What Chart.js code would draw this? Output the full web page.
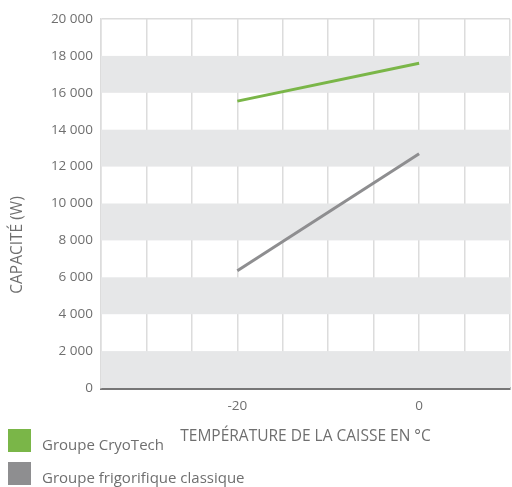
<!DOCTYPE html>
<html>
<head>
<meta charset="utf-8">
<script src="https://cdn.jsdelivr.net/npm/chart.js@4"></script>
<style>
  html, body { margin: 0; padding: 0; background: #fff; }
  #wrap { position: relative; width: 512px; height: 487px; }
  #legend { position: absolute; left: 8px; top: 429px; font: 15px 'Open Sans', sans-serif; color: #6f6f6f; }
  .leg-row { display: flex; align-items: center; height: 23px; margin-bottom: 10px; }
  .leg-box { width: 23px; height: 23px; margin-right: 11px; }
  .leg-row span { position: relative; top: 3px; }
</style>
</head>
<body>
<div id="wrap">
  <canvas id="chart" width="512" height="487"></canvas>
  <div id="legend"></div>
</div>
<script>
// Données
const temperatures  = [-20, 0];
const cryoTech      = [15550, 17600];
const classique     = [6350, 12700];
const seriesNames   = ['Groupe CryoTech', 'Groupe frigorifique classique'];
const seriesColors  = ['#7ab648', '#8e8e90'];
const xLabelTicks   = [-20, 0];
const xTitle        = 'TEMPÉRATURE DE LA CAISSE EN °C';
const yTitle        = 'CAPACITÉ (W)';

const textColor = '#6f6f6f';
const fontFam   = "'Open Sans', sans-serif";

// Bandes grises alternées
const bandsPlugin = {
    id: 'bands',
    beforeDatasetsDraw(chart) {
        const { ctx, chartArea, scales } = chart;
        const y = scales.y;
        ctx.save();
        ctx.fillStyle = '#e6e7e8';
        y.ticks.forEach((t, i) => {
            if (i % 2 === 0 && i + 1 < y.ticks.length) {
                const top = y.getPixelForValue(y.ticks[i + 1].value);
                const bot = y.getPixelForValue(t.value);
                ctx.fillRect(chartArea.left, top, chartArea.right - chartArea.left, bot - top);
            }
        });
        ctx.restore();
    }
};

// Titre axe Y (décalé vers le bas)
const yTitlePlugin = {
    id: 'yTitle',
    afterDraw(chart) {
        const { ctx } = chart;
        ctx.save();
        ctx.translate(18, 245);
        ctx.rotate(-Math.PI / 2);
        ctx.font = '15.5px ' + fontFam;
        ctx.fillStyle = textColor;
        ctx.textAlign = 'center';
        ctx.textBaseline = 'middle';
        ctx.fillText(yTitle, 0, 0);
        ctx.restore();
    }
};

const toPoints = vals => vals.map((v, i) => ({ x: temperatures[i], y: v }));

new Chart(document.getElementById('chart').getContext('2d'), {
    type: 'line',
    data: {
        datasets: [
            { data: toPoints(cryoTech),  borderColor: seriesColors[0], borderWidth: 3, pointRadius: 0, tension: 0 },
            { data: toPoints(classique), borderColor: seriesColors[1], borderWidth: 3, pointRadius: 0, tension: 0 }
        ]
    },
    plugins: [bandsPlugin, yTitlePlugin],
    options: {
        responsive: false,
        animation: false,
        layout: { padding: { top: 19, right: 2, left: 0, bottom: 0 } },
        plugins: { legend: { display: false }, tooltip: { enabled: false } },
        scales: {
            x: {
                type: 'linear',
                min: -35,
                max: 10,
                afterFit(scale) { scale.height = 99; scale.paddingLeft = 0; scale.paddingRight = 0; },
                grid: { color: '#dcdcdc', lineWidth: 1.5, drawTicks: false },
                border: { display: true, color: '#767676', width: 3 },
                ticks: {
                    stepSize: 5,
                    padding: 10,
                    color: textColor,
                    font: { family: fontFam, size: 13.5 },
                    callback: v => xLabelTicks.includes(v) ? String(v) : ''
                },
                title: {
                    display: true,
                    text: xTitle,
                    color: textColor,
                    font: { family: fontFam, size: 15.5 },
                    padding: { top: 4, bottom: 41 }
                }
            },
            y: {
                min: 0,
                max: 20000,
                afterFit(scale) { scale.width = 101; },
                grid: {
                    drawTicks: false,
                    lineWidth: 1.5,
                    color: c => c.tick && c.tick.value === 20000 ? '#dcdcdc' : 'rgba(0,0,0,0)'
                },
                border: { display: true, color: '#dcdcdc', width: 1.5 },
                ticks: {
                    stepSize: 2000,
                    padding: 8,
                    color: textColor,
                    font: { family: fontFam, size: 13.5 },
                    callback: v => v.toLocaleString('fr-FR').replace(/\s/g, ' ')
                }
            }
        }
    }
});

// Légende HTML
document.getElementById('legend').innerHTML = seriesNames.map((n, i) =>
    `<div class="leg-row"><div class="leg-box" style="background:${seriesColors[i]}"></div><span>${n}</span></div>`
).join('');
</script>
</body>
</html>
